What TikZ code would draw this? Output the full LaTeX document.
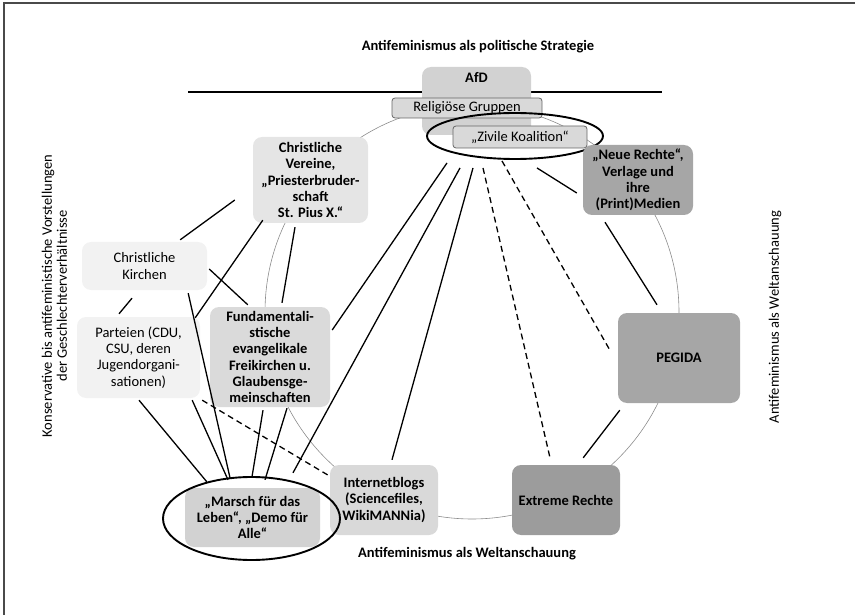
\documentclass[tikz,border=0pt]{standalone}
\usepackage{fontspec}
\setmainfont{Carlito}
\usetikzlibrary{shapes.geometric}

\definecolor{framegray}{HTML}{4A4A4A}
\definecolor{paleg}{HTML}{F2F2F2}
\definecolor{lightg}{HTML}{E5E5E5}
\definecolor{midg}{HTML}{D9D9D9}
\definecolor{afdg}{HTML}{D2D2D2}
\definecolor{darkg}{HTML}{A6A6A6}
\definecolor{deepg}{HTML}{9C9C9C}

\tikzset{
  txt/.style={font=\fontsize{14.5}{16.3}\selectfont},
  btxt/.style={font=\fontsize{14.5}{16.3}\selectfont\bfseries},
  box/.style={rounded corners=9pt, align=center, inner sep=1pt, btxt},
  tagbox/.style={rounded corners=3pt, fill=midg, draw=black!60, line width=0.8pt,
    inner sep=0pt, txt},
  ringmark/.style={ellipse, draw, line width=1.9pt, inner sep=0pt},
  link/.style={line width=1.3pt},
  dashlink/.style={link, dash pattern=on 6pt off 4pt},
  orbit/.style={draw=black!45, line width=0.6pt}
}

\begin{document}
\begin{tikzpicture}[x=1pt, y=-1pt]
\useasboundingbox (0,0) rectangle (855,615);
\draw[framegray, line width=1.5pt] (4,615) -- (4,3) -- (855,3);

% headings
\node[btxt] (top) at (478,47) {Antifeminismus als politische Strategie};
\draw[line width=1.2pt] (188,92) -- (662,92);
\node[btxt] (bottom) at (467,554) {Antifeminismus als Weltanschauung};
\node[txt, rotate=90, align=center, font=\fontsize{14.5}{15}\selectfont] (left) at (54.5,296)
  {Konservative bis antifeministische Vorstellungen\\der Geschlechterverhältnisse};
\node[txt, rotate=90] (right) at (775,317) {Antifeminismus als Weltanschauung};

% circle behind the actors
\coordinate (hub) at (472,312);
\draw[orbit] (hub) circle [radius=207pt];

% actors
\node[box, fill=afdg, minimum width=109pt, minimum height=68pt,
  label={[btxt, anchor=north, yshift=-2pt]north:AfD}] (afd) at (476.5,101) {};
\node[tagbox, minimum width=150pt, minimum height=20pt] (rel) at (467,108) {Religiöse Gruppen};
\node[tagbox, minimum width=134pt, minimum height=22pt] (ziv) at (520,137) {„Zivile Koalition“};
\node[ringmark, minimum width=176pt, minimum height=46pt] (zring) at (515,136) {};

\node[box, fill=lightg, minimum width=115pt, minimum height=86pt] (ver) at (310.5,180)
  {Christliche\\Vereine,\\„Priesterbruder-\\schaft\\St. Pius X.“};
\node[box, txt, fill=paleg, minimum width=125pt, minimum height=48pt] (kir) at (144.5,266)
  {Christliche\\Kirchen};
\node[box, txt, fill=paleg, minimum width=123pt, minimum height=81pt] (par) at (138.5,357.5)
  {Parteien (CDU,\\CSU, deren\\Jugendorgani-\\sationen)};
\node[box, fill=lightg!95!black, minimum width=120pt, minimum height=100pt] (fun) at (270,357)
  {Fundamentali-\\stische\\evangelikale\\Freikirchen u.\\Glaubensge-\\meinschaften};
\node[box, fill=darkg, minimum width=110pt, minimum height=70pt] (neu) at (638,180)
  {„Neue Rechte“,\\Verlage und\\ihre\\(Print)Medien};
\node[box, fill=darkg, minimum width=122pt, minimum height=90pt] (peg) at (679,358) {PEGIDA};
\node[box, fill=deepg, minimum width=108pt, minimum height=70pt] (ext) at (566,500) {Extreme Rechte};
\node[box, fill=midg, minimum width=108pt, minimum height=70pt] (blog) at (384,500)
  {Internetblogs\\(Sciencefiles,\\WikiMANNia)};
\node[box, fill=afdg, minimum width=135pt, minimum height=59pt] (mar) at (252.5,517.5)
  {„Marsch für das\\Leben“, „Demo für\\Alle“};
\node[ringmark, minimum width=177pt, minimum height=83pt] (mring) at (251.5,518.5) {};

% conservative side
\path[link]
  ([shift={(-18,20)}]ver.west) edge ([shift={(-27,-2)}]kir.north east)
  ([shift={(10,-3)}]ver.south west) edge ([shift={(-5,1)}]par.north east)
  ([shift={(-15.5,4)}]ver.south) edge ([shift={(12,-4)}]fun.north)
  ([shift={(2,3)}]kir.east) edge ([shift={(38,-2)}]fun.north west)
  ([shift={(-12.5,8)}]kir.south) edge ([shift={(-19.5,-3)}]par.north)
  ([shift={(-19,3)}]kir.south east) edge ([shift={(-22.5,-10)}]mar.north)
  ([shift={(0.5,2)}]par.south) edge ([shift={(22,-6)}]mar.north west)
  ([shift={(-8,2)}]par.south east) edge ([shift={(-24.5,-8)}]mar.north)
  ([shift={(-7,3)}]fun.south) edge ([shift={(-0.5,-11)}]mar.north)
  ([shift={(17,1)}]fun.south) edge ([shift={(12.5,-8)}]mar.north);

% from the coalition and the right
\path[link]
  ([shift={(-68,3)}]zring.south) edge ([shift={(2,-27)}]fun.east)
  ([shift={(-55,8)}]zring.south) edge ([shift={(40.5,-15)}]mar.north)
  ([shift={(-42,8)}]zring.south) edge ([shift={(8,-5)}]blog.north)
  ([shift={(22,8)}]zring.south) edge ([shift={(-6,13)}]neu.west)
  ([shift={(-33,7)}]neu.south) edge ([shift={(-22,-8)}]peg.north)
  ([shift={(2,7)}]peg.south west) edge ([shift={(-37,-7)}]ext.north east);
\path[dashlink]
  ([shift={(-32,8)}]zring.south) edge ([shift={(-16,-7)}]ext.north)
  ([shift={(-13,1)}]zring.south) edge ([shift={(-8,-8)}]peg.west)
  ([shift={(2,2)}]par.south east) edge ([shift={(-2,-25)}]blog.west);
\end{tikzpicture}
\end{document}
